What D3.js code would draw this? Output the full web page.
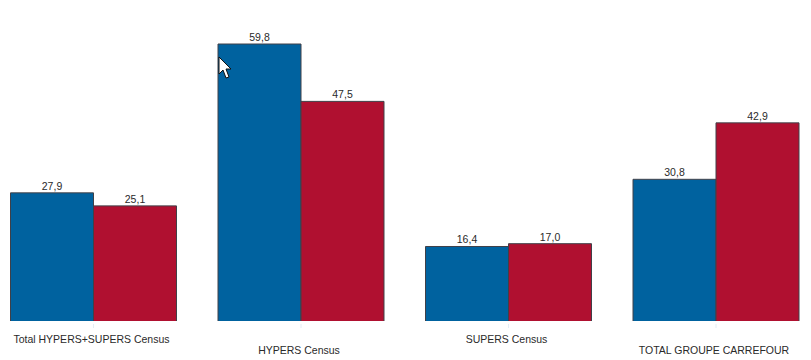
<!DOCTYPE html>
<html><head><meta charset="utf-8">
<style>html,body{margin:0;padding:0;background:#fff}svg{display:block}text{font-family:"Liberation Sans",Arial,sans-serif;fill:#2a2a2a}</style>
<script src="https://d3js.org/d3.v7.min.js"></script></head>
<body><svg id="c" width="811" height="360"></svg>
<script>
const categories = ["Total HYPERS+SUPERS Census","HYPERS Census","SUPERS Census","TOTAL GROUPE CARREFOUR"];
const seriesA = [27.9,59.8,16.4,30.8];
const seriesB = [25.1,47.5,17.0,42.9];
const labelsA = ["27,9","59,8","16,4","30,8"];
const labelsB = ["25,1","47,5","17,0","42,9"];
const colorA = "#00629f", colorB = "#b01030";
const axisFloor = 0.43;

const svg = d3.select("#c");
const x = d3.scaleBand().domain(categories).range([10.5,799]).paddingInner(0.2).paddingOuter(0);
const y = d3.scaleLinear().domain([axisFloor,59.8]).range([321,44]);
const inner = d3.scaleBand().domain([0,1]).range([0,x.bandwidth()]);

[[seriesA,labelsA,colorA,0],[seriesB,labelsB,colorB,1]].forEach(([vals,labs,col,k])=>{
  const g = svg.append("g");
  const w = inner.bandwidth();
  g.selectAll("rect").data(vals).join("rect")
    .attr("x",(d,i)=>x(categories[i])+inner(k))
    .attr("y",d=>y(d))
    .attr("width",w)
    .attr("height",d=>y(axisFloor)-y(d))
    .attr("fill",col).attr("stroke","#404048").attr("stroke-width",1)
    .attr("stroke-dasharray",d=>{const h=y(axisFloor)-y(d);return `${w+h} ${w} ${h}`;});
  g.selectAll("text").data(vals).join("text")
    .attr("x",(d,i)=>x(categories[i])+inner(k)+w/2)
    .attr("y",d=>y(d)-3)
    .attr("text-anchor","middle").attr("font-size",10.5)
    .text((d,i)=>labs[i]);
});

// faint ticks
svg.append("g").selectAll("line").data(categories).join("line")
  .attr("x1",d=>x(d)+x.bandwidth()/2).attr("x2",d=>x(d)+x.bandwidth()/2)
  .attr("y1",324).attr("y2",328).attr("stroke","#e4edf6");

// staggered category labels
svg.append("g").selectAll("text").data(categories).join("text")
  .attr("x",d=>x(d)+x.bandwidth()/2-2)
  .attr("y",(d,i)=>i%2?354:343)
  .attr("text-anchor","middle").attr("font-size",10.5)
  .text(d=>d);

// mouse cursor captured in the screenshot
svg.append("path")
  .attr("d","M219 57 L219 74 L223 70 L226 78 L229 77 L226 69 L231 69 Z")
  .attr("fill","#fff").attr("stroke","#111").attr("stroke-width",1);
</script></body></html>
